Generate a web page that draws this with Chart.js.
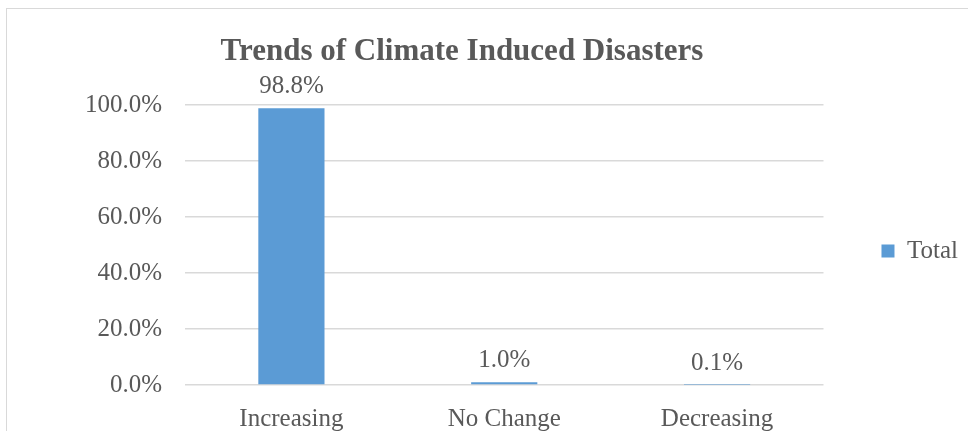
<!DOCTYPE html>
<html>
<head>
<meta charset="utf-8">
<script src="https://cdn.jsdelivr.net/npm/chart.js@4/dist/chart.umd.min.js"></script>
<style>
  html, body { margin: 0; padding: 0; width: 968px; height: 431px; overflow: hidden; background: #fff; }
  #frame { position: absolute; left: 6px; top: 8px; width: 1000px; height: 500px; border: 1px solid #d9d9d9; box-sizing: border-box; }
  #wrap { position: absolute; left: 0; top: 0; width: 968px; height: 431px; }
</style>
</head>
<body>
<div id="frame"></div>
<div id="wrap"><canvas id="chart" width="968" height="431"></canvas></div>
<script>
// Survey responses on the trend of climate-induced disasters
const chartTitle = 'Trends of Climate Induced Disasters';
const categories = ['Increasing', 'No Change', 'Decreasing'];
const seriesName = 'Total';
const totals = [98.8, 1.0, 0.1];
const yTicks = [0, 20, 40, 60, 80, 100];

const TEXT = '#595959';
const BAR = '#5B9BD5';
const GRID = '#d9d9d9';
const FONT = "'Liberation Serif', 'Times New Roman', serif";
const SIZE = 25;

// Title centred over the framed chart box
const titlePlugin = {
  id: 'boxTitle',
  afterDraw(chart) {
    const ctx = chart.ctx;
    ctx.save();
    ctx.font = 'bold 31px ' + FONT;
    ctx.fillStyle = TEXT;
    ctx.textAlign = 'center';
    ctx.textBaseline = 'alphabetic';
    ctx.fillText(chartTitle, 462, 60);
    ctx.restore();
  }
};

// Value labels above each bar
const valueLabels = {
  id: 'valueLabels',
  afterDatasetsDraw(chart) {
    const ctx = chart.ctx;
    const meta = chart.getDatasetMeta(0);
    ctx.save();
    ctx.font = SIZE + 'px ' + FONT;
    ctx.fillStyle = TEXT;
    ctx.textAlign = 'center';
    ctx.textBaseline = 'alphabetic';
    meta.data.forEach((bar, i) => {
      const v = chart.data.datasets[0].data[i];
      ctx.fillText(v.toFixed(1) + '%', bar.x, bar.y - 15);
    });
    ctx.restore();
  }
};

new Chart(document.getElementById('chart'), {
  type: 'bar',
  data: {
    labels: categories,
    datasets: [{
      label: seriesName,
      data: totals,
      backgroundColor: BAR,
      borderWidth: 0,
      barPercentage: 0.311,
      categoryPercentage: 1.0
    }]
  },
  options: {
    responsive: false,
    animation: false,
    layout: { padding: { top: 105, left: 0, right: 0, bottom: 0 } },
    plugins: {
      title: { display: false },
      tooltip: { enabled: false },
      legend: {
        position: 'right',
        fullSize: false,
        title: { display: true, text: '', padding: 0, font: { size: 10 } },
        labels: {
          boxWidth: 13,
          boxHeight: 13,
          padding: 58,
          color: TEXT,
          font: { family: FONT, size: SIZE }
        }
      }
    },
    scales: {
      x: {
        grid: { display: false },
        border: { display: false },
        ticks: { color: TEXT, font: { family: FONT, size: SIZE }, padding: 11, maxRotation: 0 },
        afterFit(scale) { scale.height = 46; }
      },
      y: {
        min: 0,
        max: 100,
        afterBuildTicks(scale) { scale.ticks = yTicks.map(v => ({ value: v })); },
        grid: { color: GRID, lineWidth: 1.5, drawTicks: false },
        border: { display: false },
        ticks: {
          color: TEXT,
          font: { family: FONT, size: SIZE },
          padding: 23,
          callback: v => v.toFixed(1) + '%'
        },
        afterFit(scale) { scale.width = 185; }
      }
    }
  },
  plugins: [valueLabels, titlePlugin]
});
</script>
</body>
</html>
